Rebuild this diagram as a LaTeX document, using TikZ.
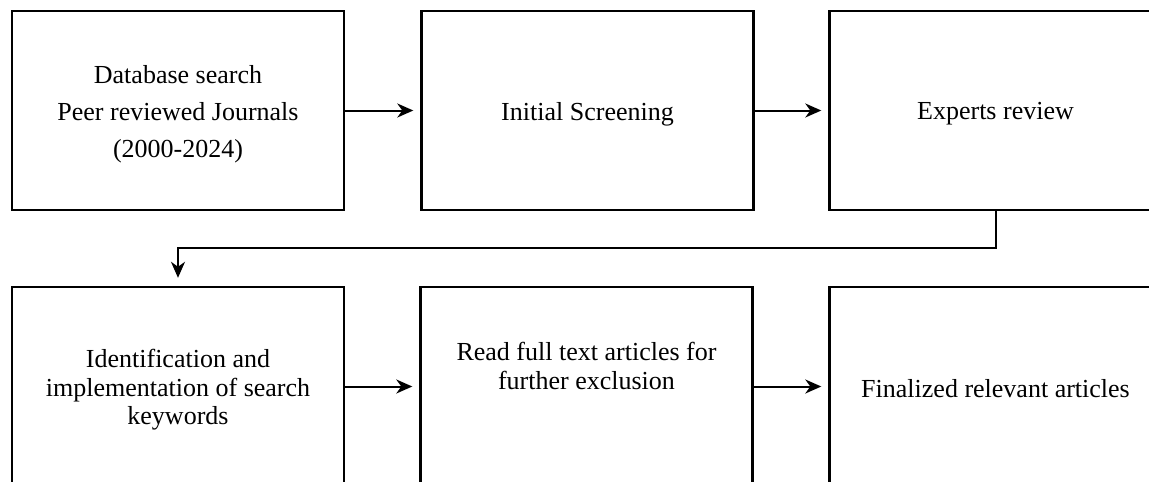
\documentclass[tikz,border=0pt]{standalone}
\usepackage{fontspec}
\setmainfont{Liberation Serif}
\usetikzlibrary{arrows.meta,positioning}

\begin{document}
\begin{tikzpicture}[x=1pt,y=-1pt,
  stepbox/.style={draw=black, line width=2.4pt, rectangle,
    minimum width=332pt, minimum height=199pt, inner sep=0pt},
  txt/.style={align=center, inner sep=0pt, yshift=-3.5pt,
    font=\fontsize{26}{37}\selectfont},
  tight/.style={txt, font=\fontsize{26}{28.5}\selectfont},
  flow/.style={line width=2pt, -{Stealth[length=16pt,width=14pt,inset=5pt]},
    shorten >=7pt}
]
\useasboundingbox (0,0) rectangle (1149,482);
\clip (0,0) rectangle (1149,482);

% upper row
\node[stepbox, label={[txt]center:{Database search\\Peer reviewed Journals\\(2000-2024)}}] (db) at (178,110.5) {};
\node[stepbox, label={[txt]center:{Initial Screening}}] (init) at (587.5,110.5) {};
\node[stepbox, label={[txt]center:{Experts review}}] (exp) at (995.5,110.5) {};

% lower row
\node[stepbox, label={[tight]center:{Identification and\\implementation of search\\keywords}}] (kw) at (178,386.5) {};
\node[stepbox, label={[tight, yshift=24pt]center:{Read full text articles for\\further exclusion}}] (full) at (586.5,386.5) {};
\node[stepbox, label={[txt, yshift=1.5pt]center:{Finalized relevant articles}}] (fin) at (995.5,386.5) {};

% connectors
\draw[flow] (db.east) -- (init.west);
\draw[flow] (init.east) -- (exp.west);
\coordinate (bend) at (995.5,248);
\draw[flow, shorten >=8pt] (exp.south) -- (bend) -| (kw.north);
\draw[flow] (kw.east) -- (full.west);
\draw[flow] (full.east) -- (fin.west);
\end{tikzpicture}
\end{document}
